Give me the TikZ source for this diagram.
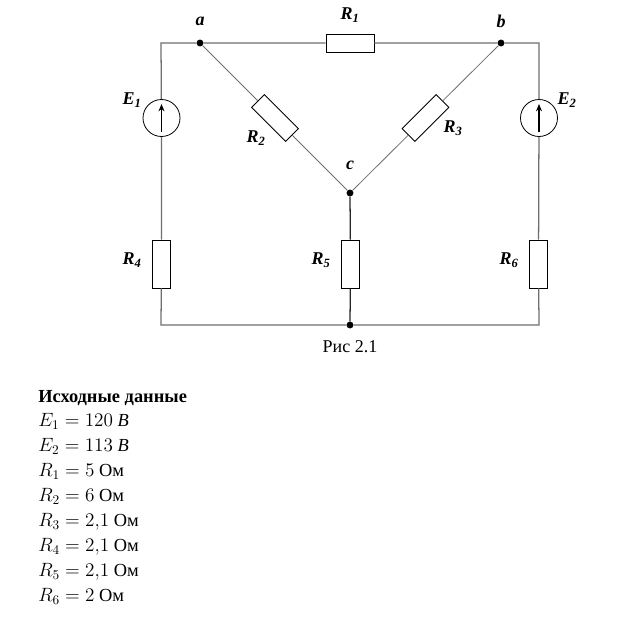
\documentclass[tikz,border=0pt]{standalone}
\usepackage{fontspec}
\setmainfont{Liberation Serif}
\usetikzlibrary{arrows.meta}
\definecolor{wiregray}{RGB}{110,110,110}
\begin{document}
\begin{tikzpicture}[x=0.75pt, y=-0.75pt,
		wire/.style = {draw=wiregray, line width=0.95pt},
		diag/.style = {draw=wiregray, line width=0.6pt},
		res/.style = {draw, rectangle, fill=white, line width=0.6pt, minimum width=36pt, minimum height=13.5pt, inner sep=0pt},
		src/.style = {draw, circle, fill=white, line width=0.6pt, minimum size=27.75pt, inner sep=0pt},
		dot/.style = {circle, fill, inner sep=0pt, minimum size=5.2pt},
		lab/.style = {font=\fontsize{13.5}{15}\selectfont\bfseries\itshape},
		txt/.style = {anchor=base west, inner sep=0pt, font=\fontsize{13.8}{16}\selectfont}]
		\useasboundingbox (0,0) rectangle (620,621);
		% corners and junctions
		\coordinate (tl) at (161,43);
		\coordinate (tr) at (539,43);
		\coordinate (bl) at (161,325);
		\coordinate (br) at (539,325);
		\node[dot] (a) at (200,43) {};
		\node[dot] (b) at (501,43) {};
		\node[dot] (c) at (350,193) {};
		\node[dot] (d) at (350,325) {};
		% elements
		\node[res] (R1) at (350,43) {};
		\node[res, rotate=-45] (R2) at (275,118) {};
		\node[res, rotate=45] (R3) at (425.5,118) {};
		\node[res, rotate=90] (R4) at (161.5,264) {};
		\node[res, rotate=90] (R5) at (350.5,264) {};
		\node[res, rotate=90] (R6) at (538.5,264) {};
		\node[src] (E1) at (161.5,118) {};
		\node[src] (E2) at (539,118) {};
		% wires
		\draw[wire] (E1) -- (tl) -- (a) -- (R1) -- (b) -- (tr) -- (E2);
		\draw[wire] (E1) -- (R4) -- (bl) -- (d) -- (br) -- (R6) -- (E2);
		\draw[diag] (a) -- (R2) -- (c) -- (R3) -- (b);
		\draw[wire, draw=black!85] (c) -- (R5) -- (d);
		\draw[line width=0.8pt, -{Stealth[length=5.5pt, width=4.5pt]}] ([yshift=-10.5pt]E1.center) -- ([yshift=10.5pt]E1.center);
		\draw[line width=0.8pt, -{Stealth[length=5.5pt, width=4.5pt]}] ([yshift=-10.5pt]E2.center) -- ([yshift=10.5pt]E2.center);
		% labels
		\node[lab] (la) at (200,21) {a};
		\node[lab] (lb) at (501,21) {b};
		\node[lab] (lc) at (350,165) {c};
		\node[lab] (lR1) at (350,15) {R\textsubscript{1}};
		\node[lab] (lR2) at (256,138) {R\textsubscript{2}};
		\node[lab] (lR3) at (453,128) {R\textsubscript{3}};
		\node[lab] (lR4) at (132,260) {R\textsubscript{4}};
		\node[lab] (lR5) at (321,260) {R\textsubscript{5}};
		\node[lab] (lR6) at (509,260) {R\textsubscript{6}};
		\node[lab] (lE1) at (132,100) {E\textsubscript{1}};
		\node[lab] (lE2) at (567,100) {E\textsubscript{2}};
		\node[font=\fontsize{13.5}{15}\selectfont] (cap) at (350,347) {Рис 2.1};
		% data
		\node[txt] (head) at (38,402) {\bfseries Исходные данные};
		\node[txt] (dE1) at (38,426.5) {$E_1 = 120$ \textit{В}};
		\node[txt] (dE2) at (38,451.5) {$E_2 = 113$ \textit{В}};
		\node[txt] (dR1) at (38,476.5) {$R_1 = 5$ Ом};
		\node[txt] (dR2) at (38,501.5) {$R_2 = 6$ Ом};
		\node[txt] (dR3) at (38,526.5) {$R_3 = 2{,}1$ Ом};
		\node[txt] (dR4) at (38,551.5) {$R_4 = 2{,}1$ Ом};
		\node[txt] (dR5) at (38,576.5) {$R_5 = 2{,}1$ Ом};
		\node[txt] (dR6) at (38,601.5) {$R_6 = 2$ Ом};
	\end{tikzpicture}
\end{document}
